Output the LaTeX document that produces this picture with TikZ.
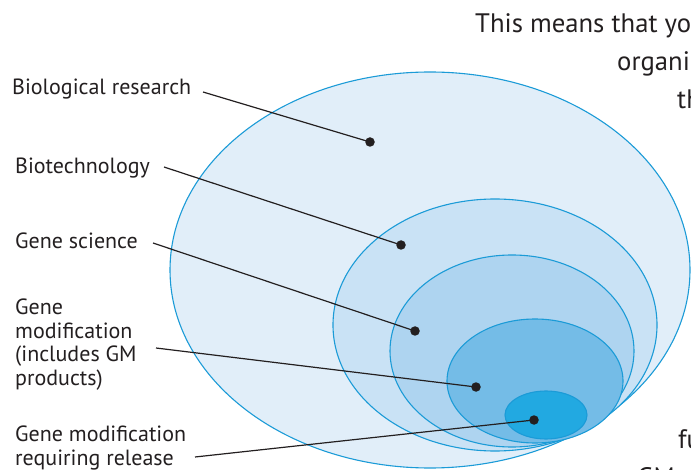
\documentclass[tikz,border=0pt]{standalone}
\usepackage{fontspec}
\setmainfont{PT Sans}
\definecolor{ink}{HTML}{231F20}
\definecolor{rim}{HTML}{1B9BD7}
\definecolor{fillA}{HTML}{E1EEF9}
\definecolor{fillB}{HTML}{C9E2F5}
\definecolor{fillC}{HTML}{AED4F0}
\definecolor{fillD}{HTML}{74BCE7}
\definecolor{fillE}{HTML}{22A9E1}
\begin{document}
\begin{tikzpicture}[x=1pt,y=-1pt,
  zone/.style={draw=rim,line width=1.1pt},
  lbl/.style={anchor=base west,inner sep=0pt,text=ink,align=left,
    font=\fontsize{22}{23.5}\selectfont},
  body/.style={anchor=base west,inner sep=0pt,text=ink,
    font=\fontsize{26.7}{30}\selectfont},
  pin/.style={circle,fill=ink,inner sep=0pt,minimum size=9.5pt},
  lead/.style={draw=ink,line width=1.2pt}]
\useasboundingbox (0,0) rectangle (691,470);
\clip (0,0) rectangle (691,470);

% nested fields, largest first
\filldraw[zone,fill=fillA] (430,270) ellipse [x radius=260pt,y radius=198pt];
\filldraw[zone,fill=fillB] (495,325) ellipse [x radius=162pt,y radius=126pt];
\filldraw[zone,fill=fillC] (512,351) ellipse [x radius=122pt,y radius=96pt];
\filldraw[zone,fill=fillD] (535,381) ellipse [x radius=88pt,y radius=62pt];
\filldraw[zone,fill=fillE] (546,415) ellipse [x radius=41pt,y radius=24pt];

% labels (base anchor sits on the last line)
\node[lbl] (l1) at (12,95) {Biological research};
\node[lbl] (l2) at (15,174) {Biotechnology};
\node[lbl] (l3) at (15,249) {Gene science};
\node[lbl] (l4) at (15,385) {Gene\\modification\\(includes GM\\products)};
\node[lbl] (l5) at (15,465) {Gene modification\\requiring release};

% pins inside each field
\node[pin] (p1) at (370,142) {};
\node[pin] (p2) at (401,245) {};
\node[pin] (p3) at (415,331) {};
\node[pin] (p4) at (476,387) {};
\node[pin] (p5) at (534,420) {};

% leader starts beside the labels
\coordinate (s1) at (203,92);
\coordinate (s2) at (164,167);
\coordinate (s3) at (153,243);
\coordinate (s4) at (156,348);
\coordinate (s5) at (195,457);

\draw[lead] (s1) -- (p1.center);
\draw[lead] (s2) -- (p2.center);
\draw[lead] (s3) -- (p3.center);
\draw[lead] (s4) -- (p4.center);
\draw[lead] (s5) -- (p5.center);

% running text around the figure
\node[body] (t1) at (475,33) {This means that yo};
\node[body] (t2) at (617,71) {organi};
\node[body] (t3) at (677,109) {th};
\node[body] (t4) at (678,448) {fu};
\node[body] (t5) at (637,486) {GM};
\end{tikzpicture}
\end{document}
